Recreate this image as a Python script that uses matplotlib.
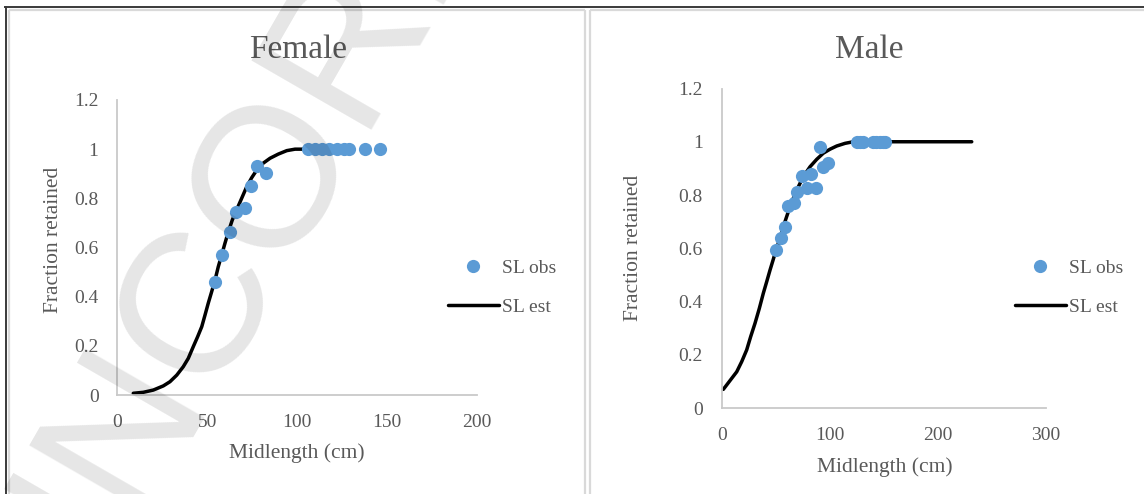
import matplotlib
matplotlib.use("Agg")
import matplotlib.pyplot as plt
from matplotlib.lines import Line2D

# ---------------- data ----------------
female_obs_x = [54.5, 58.5, 62.5, 66, 71, 74.5, 78, 82.5, 106, 110, 114, 118, 122, 126, 129, 138, 146]
female_obs_y = [0.46, 0.57, 0.665, 0.745, 0.76, 0.85, 0.93, 0.905, 1, 1, 1, 1, 1, 1, 1, 1, 1]
female_est_x = [8.9, 14.5, 20.0, 25.6, 29.3, 33.1, 36.7, 39.5, 42.3, 44.7, 47.0, 48.8, 50.6, 52.5, 54.4,
                56.2, 58.1, 59.9, 61.8, 64.0, 66.4, 69.2, 72.0, 74.8, 77.6, 81.2, 85.0, 89.6, 94.3, 98.9, 103.5]
female_est_y = [0.007, 0.011, 0.020, 0.037, 0.054, 0.081, 0.115, 0.149, 0.197, 0.237, 0.278, 0.325, 0.373,
                0.420, 0.468, 0.522, 0.570, 0.617, 0.664, 0.712, 0.753, 0.800, 0.847, 0.884, 0.915, 0.943,
                0.963, 0.980, 0.994, 1.0, 1.0]

male_obs_x = [50, 54.5, 58.5, 61.5, 67, 70, 74, 78.5, 82.5, 87.5, 90.5, 94, 98, 125, 128, 131, 140, 143, 146, 149, 151]
male_obs_y = [0.595, 0.64, 0.68, 0.76, 0.77, 0.81, 0.87, 0.825, 0.88, 0.825, 0.98, 0.905, 0.92, 1, 1, 1, 1, 1, 1, 1, 1]
male_est_x = [1.5, 7.7, 13.9, 18.5, 23.1, 26.8, 30.8, 34.8, 38.5, 41.6, 44.7, 47.7, 50.2, 53.9, 57.0, 60.1,
              63.2, 66.9, 70.9, 75.5, 81.7, 87.9, 94.0, 100.2, 106.4, 114.1, 121.7, 231.3]
male_est_y = [0.070, 0.103, 0.136, 0.174, 0.218, 0.268, 0.318, 0.374, 0.431, 0.474, 0.518, 0.558, 0.593,
              0.637, 0.681, 0.719, 0.756, 0.794, 0.831, 0.869, 0.906, 0.934, 0.957, 0.972, 0.984, 0.994,
              1.0, 1.0]

y_ticks = [0, 0.2, 0.4, 0.6, 0.8, 1.0, 1.2]
y_tick_labels = ["0", "0.2", "0.4", "0.6", "0.8", "1", "1.2"]
female_x_ticks = [0, 50, 100, 150, 200]
male_x_ticks = [0, 100, 200, 300]

titles = ["Female", "Male"]
x_label = "Midlength (cm)"
y_label = "Fraction retained"
obs_label = "SL obs"
est_label = "SL est"

# ---------------- styling ----------------
W, H = 1144, 494
SERIF = "Liberation Serif"
TXT = "#595959"
BLUE = "#5b9bd5"
AXC = "#c9c9c9"


def fx(px):
    return px / W


def fy(py):
    return 1 - py / H


fig = plt.figure(figsize=(W / 100, H / 100), dpi=100)
fig.patch.set_facecolor("white")


def make_panel(rect, xlim, xticks, ox, oy, ex, ey, title_xy, ylab_xy, xlab_xy, leg_xy):
    ax = fig.add_axes(rect)
    ax.set_xlim(*xlim)
    ax.set_ylim(0, 1.2)
    for s in ["top", "right"]:
        ax.spines[s].set_visible(False)
    for s in ["left", "bottom"]:
        ax.spines[s].set_color(AXC)
        ax.spines[s].set_linewidth(1.3)
    ax.set_xticks(xticks)
    ax.set_xticklabels([str(t) for t in xticks])
    ax.set_yticks(y_ticks)
    ax.set_yticklabels(y_tick_labels)
    ax.tick_params(length=0, pad=13.5, labelsize=14, labelcolor=TXT)
    for lab in ax.get_xticklabels() + ax.get_yticklabels():
        lab.set_family(SERIF)
    ax.patch.set_alpha(0)
    line, = ax.plot(ex, ey, color="black", lw=2.5, solid_capstyle="round", solid_joinstyle="round",
                    zorder=2, clip_on=False)
    pts, = ax.plot(ox, oy, "o", ls="none", color=BLUE, markersize=9.5, markeredgewidth=0, zorder=3, clip_on=False)
    leg = ax.legend([pts, line], [obs_label, est_label], loc="upper left",
                    bbox_to_anchor=(fx(leg_xy[0]), fy(leg_xy[1])), bbox_transform=fig.transFigure,
                    frameon=False, borderpad=0, borderaxespad=0, handlelength=2.6, handletextpad=0.2,
                    labelspacing=1.12, prop={"family": SERIF, "size": 14})
    for t in leg.get_texts():
        t.set_color(TXT)
    fig.text(fx(title_xy[0]), fy(title_xy[1]), title_xy[2], ha="center", va="center",
             fontsize=24, color=TXT, family=SERIF)
    fig.text(fx(ylab_xy[0]), fy(ylab_xy[1]), y_label, ha="center", va="center", rotation=90,
             fontsize=15.5, color=TXT, family=SERIF)
    fig.text(fx(xlab_xy[0]), fy(xlab_xy[1]), x_label, ha="center", va="center",
             fontsize=15.5, color=TXT, family=SERIF)
    return ax


axL = make_panel([fx(117.3), fy(395), (476.7 - 117.3) / W, (395 - 100) / H], (0, 200), female_x_ticks,
                 female_obs_x, female_obs_y, female_est_x, female_est_y,
                 (298, 50, titles[0]), (54, 240), (297, 453), (448, 259))
axR = make_panel([fx(721.7), fy(408), (1046 - 721.7) / W, (408 - 88.5) / H], (0, 300), male_x_ticks,
                 male_obs_x, male_obs_y, male_est_x, male_est_y,
                 (869, 50, titles[1]), (633, 248), (885, 467), (1015, 259))

# ---------------- frames ----------------
def fline(x0, y0, x1, y1, color, lw):
    fig.add_artist(Line2D([fx(x0), fx(x1)], [fy(y0), fy(y1)], transform=fig.transFigure,
                          color=color, lw=lw, solid_capstyle="butt"))

LIGHT = "#d9d9d9"
fline(9, 10, 585, 10, LIGHT, 1.6)
fline(9, 10, 9, 494, LIGHT, 1.6)
fline(585, 10, 585, 494, LIGHT, 1.6)
fline(589.5, 10, 1144, 10, LIGHT, 1.6)
fline(589.5, 10, 589.5, 494, LIGHT, 1.6)
fline(4, 6.7, 1144, 6.7, "#3a3a3a", 1.4)
fline(5.7, 6, 5.7, 494, "#3a3a3a", 1.4)

# ---------------- watermark ----------------
wm = fig.text(fx(69), fy(653), "UNCORRECTED PROOF", rotation=60, rotation_mode="anchor",
              ha="left", va="baseline", fontsize=144, family="Liberation Sans",
              color="black", alpha=0.1, zorder=10)
wm.set_clip_on(True)
wm.set_clip_box(fig.bbox)

fig.savefig("out.png", dpi=100, facecolor="white")
